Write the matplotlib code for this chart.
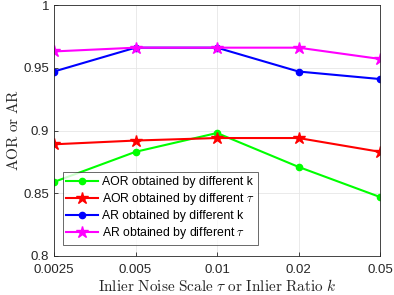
import matplotlib
matplotlib.use("Agg")
import matplotlib.pyplot as plt

plt.rcParams['mathtext.fontset'] = 'cm'
plt.rcParams['font.family'] = ['Liberation Sans', 'DejaVu Sans']

x_labels = ['0.0025', '0.005', '0.01', '0.02', '0.05']
aor_k = [0.859, 0.883, 0.898, 0.871, 0.847]
aor_tau = [0.889, 0.892, 0.894, 0.894, 0.883]
ar_k = [0.947, 0.966, 0.966, 0.947, 0.941]
ar_tau = [0.963, 0.966, 0.966, 0.966, 0.957]

fig = plt.figure(figsize=(3.94, 2.95), dpi=100)
ax = fig.add_axes([54/394, 1 - 256/295, 326/394, 251/295])
xs = list(range(len(x_labels)))

ax.plot(xs, aor_k, '-o', color='#00ff00', lw=1.5, ms=4.5, label='AOR obtained by different k')
ax.plot(xs, aor_tau, '-*', color='#ff0000', lw=1.5, ms=9, label=r'AOR obtained by different $\tau$')
ax.plot(xs, ar_k, '-o', color='#0000ff', lw=1.5, ms=4.5, label='AR obtained by different k')
ax.plot(xs, ar_tau, '-*', color='#ff00ff', lw=1.5, ms=9, label=r'AR obtained by different $\tau$')

ax.set_xlim(0, 4)
ax.set_ylim(0.8, 1.0)
ax.set_xticks(xs)
ax.set_xticklabels(x_labels)
ax.set_yticks([0.8, 0.85, 0.9, 0.95, 1.0])
ax.set_yticklabels(['0.8', '0.85', '0.9', '0.95', '1'])
ax.tick_params(direction='in', labelsize=9.5, colors='#262626', length=3, width=0.6)
ax.tick_params(axis='x', pad=6)
ax.grid(True, color='#e6e6e6', lw=0.6)
ax.set_axisbelow(True)
for s in ax.spines.values():
    s.set_color('#262626')
    s.set_linewidth(0.6)

ax.set_xlabel(r'$\mathrm{Inlier\ Noise\ Scale}\ \tau\ \mathrm{or\ Inlier\ Ratio}\ k$',
              fontsize=11, color='#262626', labelpad=1)
ax.set_ylabel(r'$\mathrm{AOR\ or\ AR}$', fontsize=11, color='#262626', labelpad=2)

leg = ax.legend(loc='lower left', bbox_to_anchor=(0.027, 0.044), fontsize=8.8,
                frameon=True, fancybox=False, edgecolor='#262626',
                handlelength=2.6, borderpad=0.3, labelspacing=0.25,
                handletextpad=0.3, borderaxespad=0)
leg.get_frame().set_linewidth(0.6)

fig.savefig('out.png', dpi=100)
